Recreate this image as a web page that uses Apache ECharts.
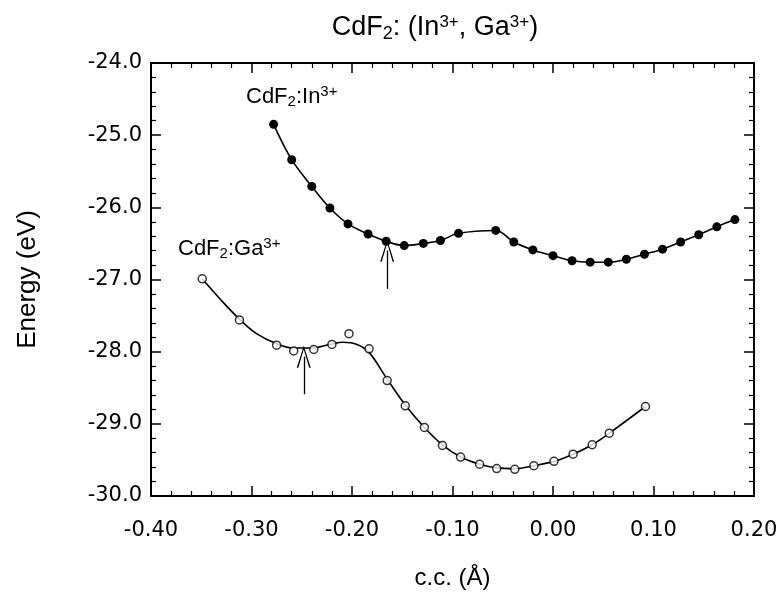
<!DOCTYPE html>
<html>
<head>
<meta charset="utf-8">
<script src="https://cdn.jsdelivr.net/npm/echarts@6/dist/echarts.min.js"></script>
<style>
  html, body { margin: 0; padding: 0; background: #fff; }
  #main { width: 783px; height: 595px; }
</style>
</head>
<body>
<div id="main"></div>
<script>
// CdF2: (In3+, Ga3+)  energy vs c.c.
const inX = [-0.278, -0.260, -0.240, -0.222, -0.204, -0.184, -0.166, -0.148, -0.129, -0.112, -0.094,
  -0.057, -0.039, -0.020, 0.000, 0.019, 0.037, 0.055, 0.073, 0.091, 0.109, 0.127, 0.145, 0.163, 0.181]
const inE = [-24.85, -25.34, -25.71, -26.01, -26.23, -26.37, -26.47, -26.53, -26.50, -26.46, -26.36,
  -26.32, -26.48, -26.59, -26.67, -26.74, -26.76, -26.76, -26.72, -26.65, -26.58, -26.48, -26.38, -26.27, -26.17]

const gaX = [-0.349, -0.312, -0.275, -0.258, -0.238, -0.220, -0.203, -0.183, -0.165, -0.147, -0.128,
  -0.110, -0.092, -0.073, -0.056, -0.038, -0.019, 0.001, 0.020, 0.039, 0.056, 0.092]
const gaE = [-26.99, -27.56, -27.91, -27.99, -27.97, -27.90, -27.75, -27.96, -28.40, -28.75, -29.05,
  -29.30, -29.46, -29.56, -29.62, -29.63, -29.58, -29.52, -29.42, -29.29, -29.13, -28.76]

// fitted curve through the Ga3+ points
const gaFitX = [-0.349, -0.330, -0.312, -0.295, -0.275, -0.258, -0.240, -0.222, -0.209, -0.195, -0.183,
  -0.165, -0.147, -0.128, -0.110, -0.092, -0.073, -0.056, -0.038, -0.019, 0.001, 0.020, 0.039, 0.056, 0.092]
const gaFitE = [-26.99, -27.29, -27.55, -27.75, -27.89, -27.95, -27.95, -27.90, -27.87, -27.90, -28.01,
  -28.38, -28.74, -29.05, -29.29, -29.46, -29.56, -29.61, -29.62, -29.58, -29.52, -29.42, -29.29, -29.13, -28.76]

// arrows: [x, tail energy, head energy]
const inArrow = [-0.165, -27.13, -26.60]
const gaArrow = [-0.248, -28.59, -28.07]

const xTicks = { min: -0.4, max: 0.2, interval: 0.1 }
const yTicks = { min: -30, max: -24, interval: 1 }

const pairs = (xs, ys) => xs.map((x, i) => [x, ys[i]])

const font = 'DejaVu Sans'
const headPath = 'path://M0,0 L10,30 L7.8,30 L0,5 L-7.8,30 L-10,30 Z'

function arrowLine (a) {
  return [{ coord: [a[0], a[1]] }, { coord: [a[0], a[2]] }]
}

function axisX (pos, showLabel) {
  return {
    type: 'value',
    position: pos,
    min: xTicks.min,
    max: xTicks.max,
    interval: xTicks.interval,
    name: showLabel ? 'c.c. (Å)' : '',
    nameLocation: 'middle',
    nameGap: 70,
    nameTextStyle: { fontFamily: 'Liberation Sans', fontSize: 24, color: '#000' },
    axisLine: { show: true, onZero: false, lineStyle: { color: '#000', width: 2 } },
    axisTick: { show: true, inside: true, length: 10, lineStyle: { color: '#000', width: 1.5 } },
    minorTick: { show: true, splitNumber: 5, length: 5, lineStyle: { color: '#000', width: 1.2 } },
    axisLabel: {
      show: showLabel, margin: 24, fontFamily: font, fontSize: 21, color: '#000',
      formatter: v => v.toFixed(2)
    },
    splitLine: { show: false }
  }
}

function axisY (pos, showLabel) {
  return {
    type: 'value',
    position: pos,
    min: yTicks.min,
    max: yTicks.max,
    interval: yTicks.interval,
    name: showLabel ? 'Energy (eV)' : '',
    nameLocation: 'middle',
    nameGap: 110,
    nameRotate: 90,
    nameTextStyle: { fontFamily: 'Liberation Sans', fontSize: 26, color: '#000' },
    axisLine: { show: true, onZero: false, lineStyle: { color: '#000', width: 2 } },
    axisTick: { show: true, inside: true, length: 10, lineStyle: { color: '#000', width: 1.5 } },
    minorTick: { show: true, splitNumber: 5, length: 5, lineStyle: { color: '#000', width: 1.2 } },
    axisLabel: {
      show: showLabel, margin: 9, fontFamily: font, fontSize: 21, color: '#000',
      padding: [6, 0, 0, 0],
      formatter: v => v.toFixed(1)
    },
    splitLine: { show: false }
  }
}

const rich = {
  t: { fontFamily: 'Liberation Sans', fontSize: 27, color: '#000' },
  sub: { fontFamily: 'Liberation Sans', fontSize: 18, color: '#000', padding: [12, 0, 0, 0] },
  sup: { fontFamily: 'Liberation Sans', fontSize: 17, color: '#000', padding: [0, 0, 12, 0] }
}
const lrich = {
  t: { fontFamily: 'Liberation Sans', fontSize: 22, color: '#000' },
  sub: { fontFamily: 'Liberation Sans', fontSize: 15, color: '#000', padding: [10, 0, 0, 0] },
  sup: { fontFamily: 'Liberation Sans', fontSize: 15, color: '#000', padding: [0, 0, 10, 0] }
}

let myChart = echarts.init(document.getElementById('main'), null, { renderer: 'canvas' })
let options = {
  backgroundColor: '#fff',
  animation: false,
  title: {
    text: '{t|CdF}{sub|2}{t|: (In}{sup|3+}{t|, Ga}{sup|3+}{t|)}',
    left: 430,
    top: 8,
    textAlign: 'center',
    textStyle: { fontWeight: 'normal', rich: rich }
  },
  grid: { left: 151, right: 29, top: 63, bottom: 94 },
  xAxis: [axisX('bottom', true), axisX('top', false)],
  yAxis: [axisY('left', true), axisY('right', false)],
  graphic: [
    { type: 'text', left: 246, top: 84, style: { text: '{t|CdF}{sub|2}{t|:In}{sup|3+}', rich: lrich } },
    { type: 'text', left: 178, top: 236, style: { text: '{t|CdF}{sub|2}{t|:Ga}{sup|3+}', rich: lrich } }
  ],
  series: [
    {
      name: 'In3+',
      type: 'line',
      smooth: 0.35,
      data: pairs(inX, inE),
      symbol: 'circle',
      symbolSize: 9,
      itemStyle: { color: '#000' },
      lineStyle: { color: '#000', width: 1.6 },
      markLine: {
        silent: true,
        symbol: ['none', headPath],
        symbolSize: [14, 22],
        label: { show: false },
        lineStyle: { color: '#000', width: 1.3, type: 'solid' },
        data: [arrowLine(inArrow), arrowLine(gaArrow)]
      }
    },
    {
      name: 'Ga3+ fit',
      type: 'line',
      smooth: 0.35,
      data: pairs(gaFitX, gaFitE),
      showSymbol: false,
      lineStyle: { color: '#000', width: 1.6 }
    },
    {
      name: 'Ga3+',
      type: 'scatter',
      data: pairs(gaX, gaE),
      symbol: 'circle',
      symbolSize: 8,
      itemStyle: { color: '#fff', borderColor: '#000', borderWidth: 1.5 },
      z: 5
    }
  ]
}
myChart.setOption(options)
</script>
</body>
</html>
